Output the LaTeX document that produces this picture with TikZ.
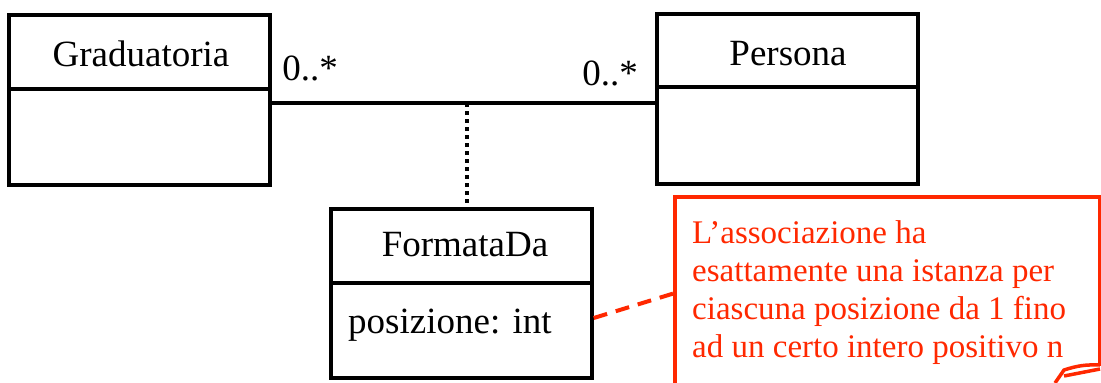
\documentclass[tikz,border=0pt]{standalone}
\usepackage{fontspec}
\setmainfont{Liberation Serif}
\definecolor{notered}{RGB}{255,40,0}
\begin{document}
\begin{tikzpicture}[x=1pt,y=-1pt,
  cls/.style={draw=black,line width=3.5pt,minimum width=261pt,minimum height=170pt,inner sep=0pt},
  sep/.style={line width=3.5pt},
  lbl/.style={font=\fontsize{37}{40}\selectfont,inner sep=0pt,anchor=base},
  noteline/.style={notered,line width=3.5pt},
  notetext/.style={font=\fontsize{33}{38}\selectfont,text=notered,align=left,inner sep=0pt,anchor=base west}]
\useasboundingbox (0,0) rectangle (1101,383);
% classes
\node[cls] (grad) at (139.5,100) {};
\draw[sep] (grad.west |- 0,89) -- (grad.east |- 0,89);
\node[lbl] (gradname) at (141,66) {Graduatoria};
\node[cls] (pers) at (787.5,99) {};
\draw[sep] (pers.west |- 0,87) -- (pers.east |- 0,87);
\node[lbl] (persname) at (788,65) {Persona};
\node[cls,minimum height=169pt] (form) at (461.5,293.5) {};
\draw[sep] (form.west |- 0,283) -- (form.east |- 0,283);
\node[lbl] (formname) at (465,256) {FormataDa};
\node[lbl,anchor=base west] (attr) at (348,333) {posizione: int};
% association
\coordinate (aL) at (grad.east |- 0,103);
\coordinate (aR) at (pers.west |- 0,103);
\coordinate (mid) at (467,103);
\draw[sep] (aL) -- (aR);
\draw[line width=3.5pt,dash pattern=on 4pt off 4pt] (mid) -- (form.north -| mid);
\node[lbl] (m1) at (310,80) {0..*};
\node[lbl] (m2) at (610,85) {0..*};
% note
\draw[noteline] (1055,383) -- (1064,370) to[bend left=10] (1100,365);
\draw[noteline] (1064,376) -- (1100,369);
\draw[noteline] (675,383) -- (675,197) -- (1100,197) -- (1100,366);
\node[notetext] (note) at (692,357) {L’associazione ha\\esattamente una istanza per\\ciascuna posizione da 1 fino\\ad un certo intero positivo n};
\coordinate (nl) at (675,293);
\draw[notered,line width=4pt,dash pattern=on 14pt off 9pt] (form.east |- 0,318) -- (nl);
\end{tikzpicture}
\end{document}
